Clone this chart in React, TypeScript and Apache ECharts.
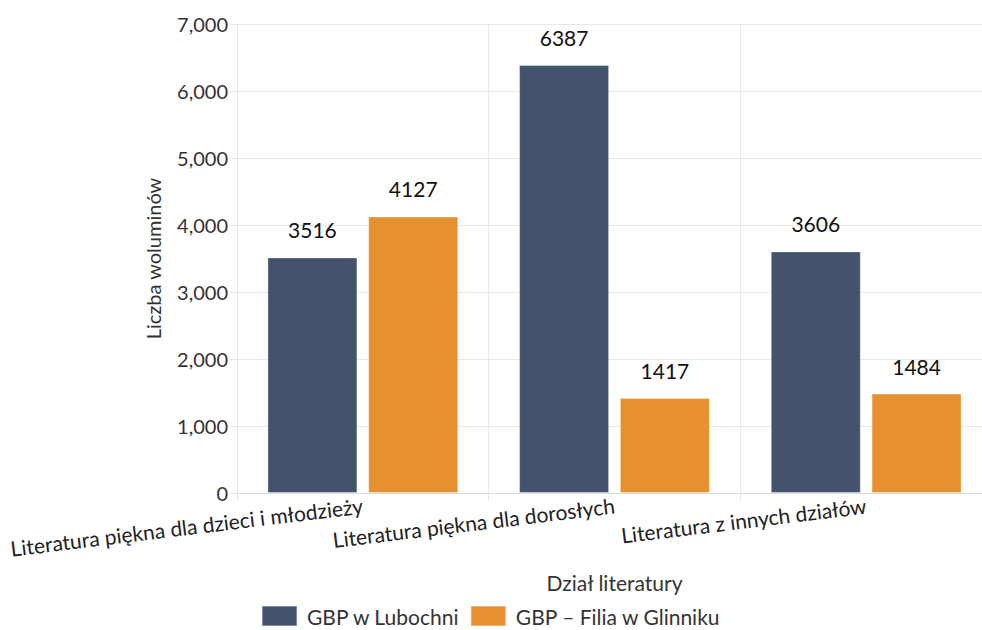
import React, { useEffect, useRef } from "react";
import * as echarts from "echarts";

const categories = [
  "Literatura piękna dla dzieci i młodzieży",
  "Literatura piękna dla dorosłych",
  "Literatura z innych działów",
];
const seriesNames = ["GBP w Lubochni", "GBP – Filia w Glinniku"];
const lubochni = [3516, 6387, 3606];
const glinnik = [4127, 1417, 1484];
const colors = ["#42536b", "#e69030"];

export default function App() {
  const ref = useRef<HTMLDivElement>(null);
  useEffect(() => {
    document.body.style.margin = "0";
    const chart = echarts.init(ref.current!, null, { renderer: "svg" });
    const font = "Lato";
    const labelStyle = {
      show: true,
      position: "top" as const,
      distance: 17,
      color: "#111",
      fontSize: 21,
      fontFamily: font,
    };
    chart.setOption({
      animation: false,
      textStyle: { fontFamily: font },
      grid: {
        left: 237,
        width: 755,
        top: 24,
        bottom: 137,
        containLabel: false,
        outerBoundsMode: "none",
      },
      xAxis: {
        type: "category",
        data: categories,
        name: "Dział literatury",
        nameLocation: "middle",
        nameGap: 79,
        nameTextStyle: { fontSize: 21, color: "#333", fontFamily: font },
        axisLine: { show: true, lineStyle: { color: "#ddd", width: 1 } },
        axisTick: { show: true, length: 7, lineStyle: { color: "#e5e5e5" } },
        splitLine: { show: true, lineStyle: { color: "#e8e8e8" } },
        axisLabel: {
          rotate: 7,
          fontSize: 21,
          color: "#222",
          fontFamily: font,
          margin: 12,
          interval: 0,
        },
      },
      yAxis: {
        type: "value",
        min: 0,
        max: 7000,
        interval: 1000,
        name: "Liczba woluminów",
        nameLocation: "middle",
        nameRotate: 90,
        nameGap: 74,
        nameTextStyle: { fontSize: 20, color: "#333", fontFamily: font },
        axisLine: { show: true, lineStyle: { color: "#e5e5e5" } },
        axisTick: { show: true, length: 7, lineStyle: { color: "#e5e5e5" } },
        splitLine: { show: true, lineStyle: { color: "#e8e8e8" } },
        axisLabel: {
          fontSize: 20,
          color: "#333",
          fontFamily: font,
          margin: 9,
          formatter: (v: number) => v.toLocaleString("en-US"),
        },
      },
      legend: {
        top: 605,
        left: "center",
        padding: 0,
        itemWidth: 35,
        itemHeight: 20,
        itemGap: 10,
        icon: "rect",
        textStyle: {
          fontSize: 21,
          lineHeight: 20,
          color: "#333",
          fontFamily: font,
          padding: [0, 0, 0, 5],
        },
        data: seriesNames,
      },
      series: [
        {
          name: seriesNames[0],
          type: "bar",
          data: lubochni,
          barWidth: 90,
          barGap: "12%",
          itemStyle: { color: colors[0], borderColor: "rgba(255,255,255,0.35)", borderWidth: 1 },
          label: labelStyle,
        },
        {
          name: seriesNames[1],
          type: "bar",
          data: glinnik,
          barWidth: 90,
          barGap: "12%",
          itemStyle: { color: colors[1], borderColor: "rgba(255,255,255,0.35)", borderWidth: 1 },
          label: labelStyle,
        },
      ],
    });
    return () => chart.dispose();
  }, []);
  return <div ref={ref} style={{ width: 982, height: 630 }} />;
}
